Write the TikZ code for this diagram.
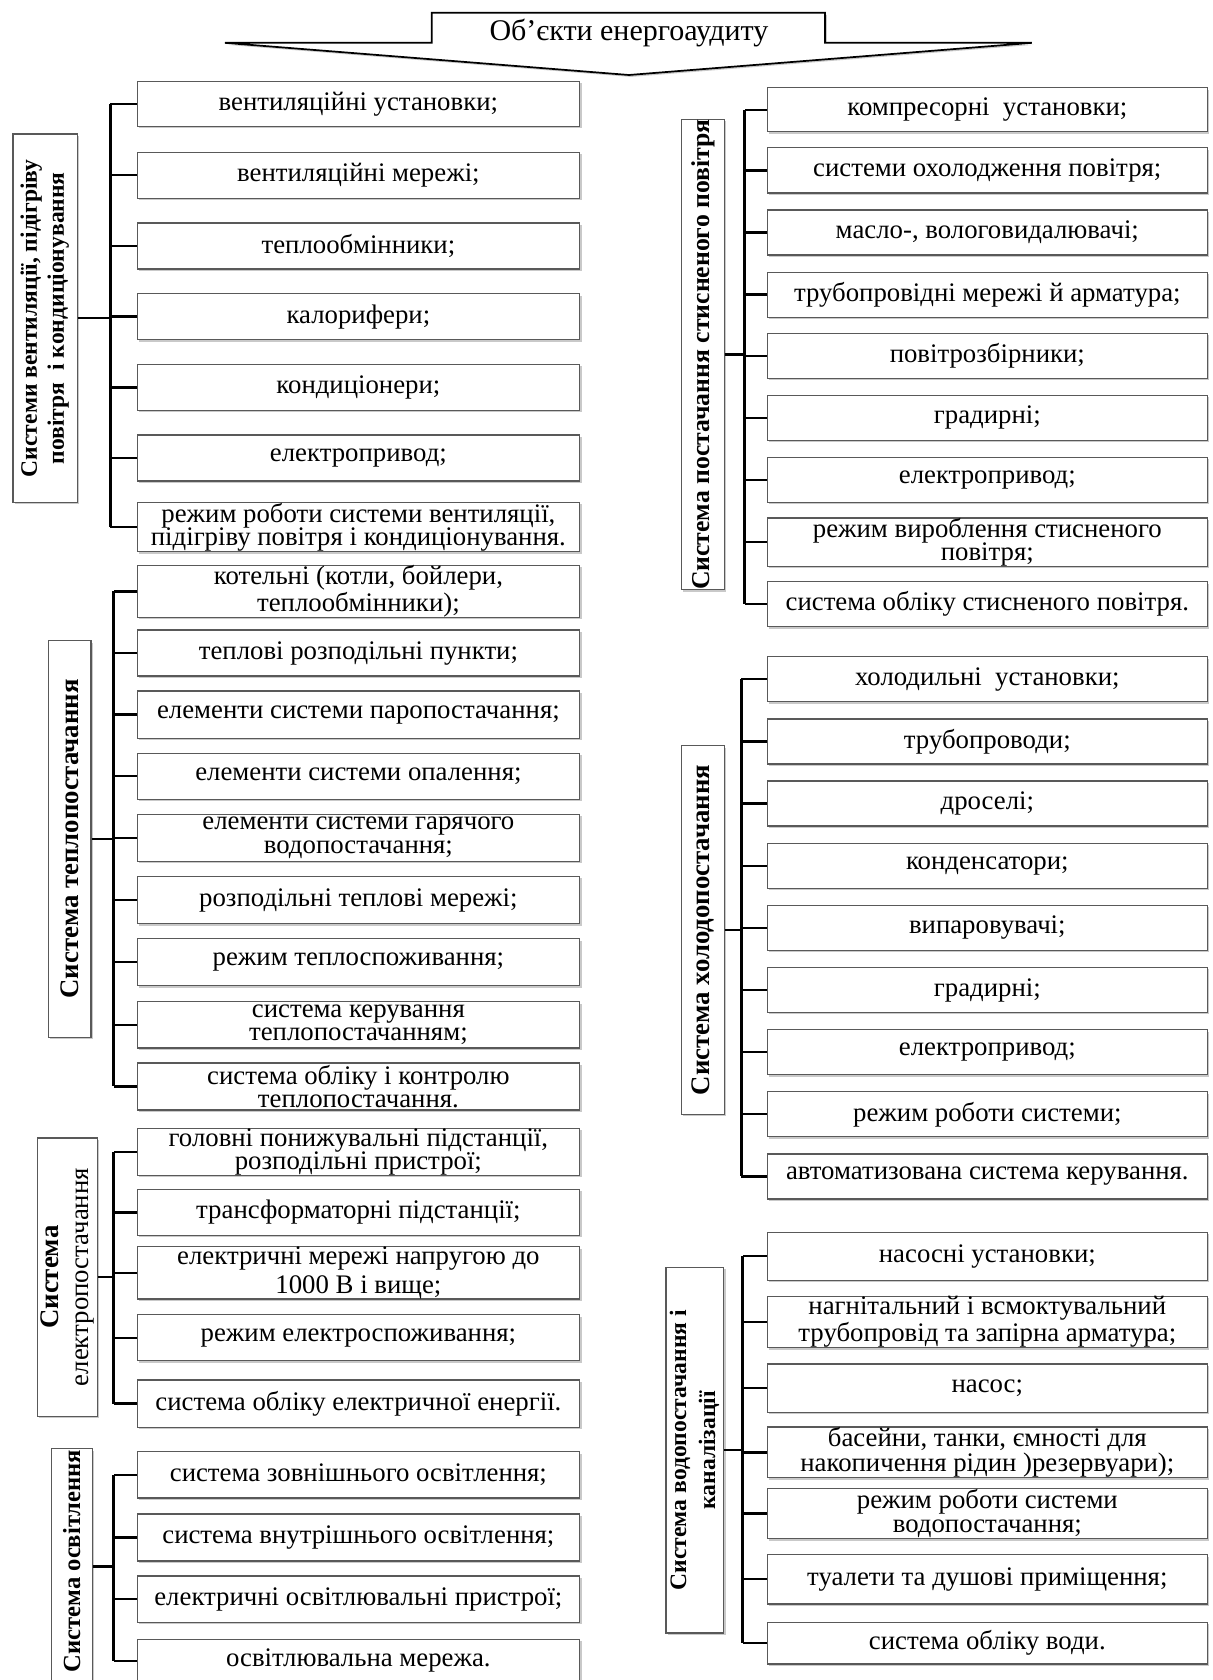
\documentclass[tikz,border=0pt]{standalone}
\usepackage{fontspec}
\setmainfont{Liberation Serif}
\usetikzlibrary{shadows}
\tikzset{
  shad/.style={drop shadow={shadow xshift=0.9pt, shadow yshift=-0.9pt, opacity=0.35, fill=black!60}},
  itembox/.style={draw=black!65, line width=0.6pt, fill=white, inner sep=0pt, align=center,
    font=\fontsize{12.5}{11}\selectfont, shad},
  labelbox/.style={draw=black!65, line width=0.6pt, fill=white, inner sep=0pt, shad},
  conn/.style={draw=black, line width=1.1pt},
  titletext/.style={font=\fontsize{14}{16}\selectfont, inner sep=0pt}
}
\newcommand\LBx[4]{\node[itembox, minimum width=206.5pt, minimum height={(#3-#2)*0.5pt}] (#1) at (334.5,{(#2+#3)/2}) {#4};}
\newcommand\RBx[4]{\node[itembox, minimum width=205.5pt, minimum height={(#3-#2)*0.5pt}] (#1) at (921.5,{(#2+#3)/2}) {#4};}
\newcommand\LabBx[6]{\node[labelbox, minimum width={(#3-#2)*0.5pt}, minimum height={(#5-#4)*0.5pt}] (#1) at ({(#2+#3)/2},{(#4+#5)/2}) {\rotatebox{90}{#6}};}
\begin{document}
\begin{tikzpicture}[x=0.5pt, y=-0.5pt]
\useasboundingbox (0,0) rectangle (1132,1568);
\fill[white] (0,0) rectangle (1132,1568);

% title arrow
\draw[line width=0.8pt, fill=white, shad] (403,12) -- (770,12) -- (770,40) -- (963,40) -- (587,70) -- (210,40) -- (403,40) -- cycle;
\node[titletext] (title) at (587,31) {Об'єкти енергоаудиту};

% ---------- ventilation ----------
\coordinate (vt) at (103,0);
\LBx{v1}{76}{118}{вентиляційні установки;}
\LBx{v2}{142}{185}{вентиляційні мережі;}
\LBx{v3}{208}{251}{теплообмінники;}
\LBx{v4}{274}{317}{калорифери;}
\LBx{v5}{340}{383}{кондиціонери;}
\LBx{v6}{406}{449}{електропривод;}
\LBx{v7}{469}{515}{режим роботи системи вентиляції,\\підігріву повітря і кондиціонування.}
\LabBx{vl}{12}{72}{125}{469}{\fontsize{11}{12.5}\selectfont\bfseries\begin{tabular}{@{}c@{}}Системи вентиляції, підігріву\\повітря\ \ і кондиціонування\end{tabular}}
\draw[conn] (v1.west -| vt) -- (v7.west -| vt);
\foreach \n in {v1,v2,v3,v4,v5,v6,v7} \draw[conn] (\n.west) -- (\n.west -| vt);
\draw[conn] (vl.east) -- (vl.east -| vt);

% ---------- heat ----------
\coordinate (ht) at (106,0);
\LBx{h1}{530}{574}{котельні (котли, бойлери,\\теплообмінники);}
\LBx{h2}{588}{631}{теплові розподільні пункти;}
\LBx{h3}{645}{689}{елементи системи паропостачання;}
\LBx{h4}{703}{746}{елементи системи опалення;}
\LBx{h5}{760}{804}{елементи системи гарячого\\водопостачання;}
\LBx{h6}{818}{862}{розподільні теплові мережі;}
\LBx{h7}{876}{920}{режим теплоспоживання;}
\LBx{h8}{935}{978}{система керування\\теплопостачанням;}
\LBx{h9}{992}{1036}{система обліку і контролю\\теплопостачання.}
\LabBx{hl}{45}{85}{598}{968}{\fontsize{12.5}{14}\selectfont\bfseries Система теплопостачання}
\draw[conn] (h1.west -| ht) -- (h9.west -| ht);
\foreach \n in {h1,h2,h3,h4,h5,h6,h7,h8,h9} \draw[conn] (\n.west) -- (\n.west -| ht);
\draw[conn] (hl.east) -- (hl.east -| ht);

% ---------- electricity ----------
\coordinate (et) at (106,0);
\LBx{e1}{1053}{1097}{головні понижувальні підстанції,\\розподільні пристрої;}
\LBx{e2}{1110}{1153}{трансформаторні підстанції;}
\LBx{e3}{1166}{1210}{електричні мережі напругою до\\[1.5pt]1000 В і вище;}
\LBx{e4}{1227}{1270}{режим електроспоживання;}
\LBx{e5}{1288}{1332}{система обліку електричної енергії.}
\LabBx{el}{40}{86}{1062}{1322}{\fontsize{12.5}{14}\selectfont\begin{tabular}{@{}c@{}}\bfseries Система\\електропостачання\end{tabular}}
\draw[conn] (e1.west -| et) -- (e5.west -| et);
\foreach \n in {e1,e2,e3,e4,e5} \draw[conn] (\n.west) -- (\n.west -| et);
\draw[conn] (el.east) -- (el.east -| et);

% ---------- lighting ----------
\coordinate (lt) at (106,0);
\LBx{l1}{1355}{1398}{система зовнішнього освітлення;}
\LBx{l2}{1413}{1457}{система внутрішнього освітлення;}
\LBx{l3}{1471}{1514}{електричні освітлювальні пристрої;}
\LBx{l4}{1530}{1570}{освітлювальна мережа.}
\LabBx{ll}{48}{86}{1352}{1572}{\fontsize{11.5}{14}\selectfont\bfseries\kern5pt Система освітлення}
\draw[conn] (l1.west -| lt) -- (l4.west -| lt);
\foreach \n in {l1,l2,l3,l4} \draw[conn] (\n.west) -- (\n.west -| lt);
\draw[conn] (ll.east) -- (ll.east -| lt);

% ---------- compressed air ----------
\coordinate (ct) at (695,0);
\RBx{c1}{82}{123}{компресорні\ \ установки;}
\RBx{c2}{138}{180}{системи охолодження повітря;}
\RBx{c3}{196}{238}{масло-, вологовидалювачі;}
\RBx{c4}{254}{296}{трубопровідні мережі й арматура;}
\RBx{c5}{311}{353}{повітрозбірники;}
\RBx{c6}{369}{411}{градирні;}
\RBx{c7}{427}{469}{електропривод;}
\RBx{c8}{485}{527}{режим вироблення стисненого\\повітря;}
\RBx{c9}{543}{585}{система обліку стисненого повітря.}
\LabBx{cl}{636}{676}{112}{550}{\fontsize{12}{14}\selectfont\bfseries Система постачання стисненого повітря}
\draw[conn] (c1.west -| ct) -- (c9.west -| ct);
\foreach \n in {c1,c2,c3,c4,c5,c6,c7,c8,c9} \draw[conn] (\n.west) -- (\n.west -| ct);
\draw[conn] (cl.east) -- (cl.east -| ct);

% ---------- cold ----------
\coordinate (kt) at (692,0);
\RBx{k1}{613}{655}{холодильні\ \ установки;}
\RBx{k2}{671}{713}{трубопроводи;}
\RBx{k3}{729}{771}{дроселі;}
\RBx{k4}{787}{829}{конденсатори;}
\RBx{k5}{845}{887}{випаровувачі;}
\RBx{k6}{903}{945}{градирні;}
\RBx{k7}{961}{1003}{електропривод;}
\RBx{k8}{1019}{1061}{режим роботи системи;}
\RBx{k9}{1077}{1119}{автоматизована система керування.}
\LabBx{kl}{636}{676}{696}{1040}{\fontsize{12.5}{14}\selectfont\bfseries Система холодопостачання}
\draw[conn] (k1.west -| kt) -- (k9.west -| kt);
\foreach \n in {k1,k2,k3,k4,k5,k6,k7,k8,k9} \draw[conn] (\n.west) -- (\n.west -| kt);
\draw[conn] (kl.east) -- (kl.east -| kt);

% ---------- water ----------
\coordinate (wt) at (693,0);
\RBx{w1}{1150}{1195}{насосні установки;}
\RBx{w2}{1211}{1257}{нагнітальний і всмоктувальний\\трубопровід та запірна арматура;}
\RBx{w3}{1273}{1318}{насос;}
\RBx{w4}{1332}{1379}{басейни, танки, ємності для\\накопичення рідин )резервуари);}
\RBx{w5}{1389}{1436}{режим роботи системи\\водопостачання;}
\RBx{w6}{1451}{1497}{туалети та душові приміщення;}
\RBx{w7}{1514}{1553}{система обліку води.}
\LabBx{wl}{624}{673}{1183}{1524}{\fontsize{11}{13.5}\selectfont\bfseries\begin{tabular}{@{}c@{}}Система водопостачання і\\каналізації\end{tabular}}
\draw[conn] (w1.west -| wt) -- (w7.west -| wt);
\foreach \n in {w1,w2,w3,w4,w5,w6,w7} \draw[conn] (\n.west) -- (\n.west -| wt);
\draw[conn] (wl.east) -- (wl.east -| wt);
\end{tikzpicture}
\end{document}
